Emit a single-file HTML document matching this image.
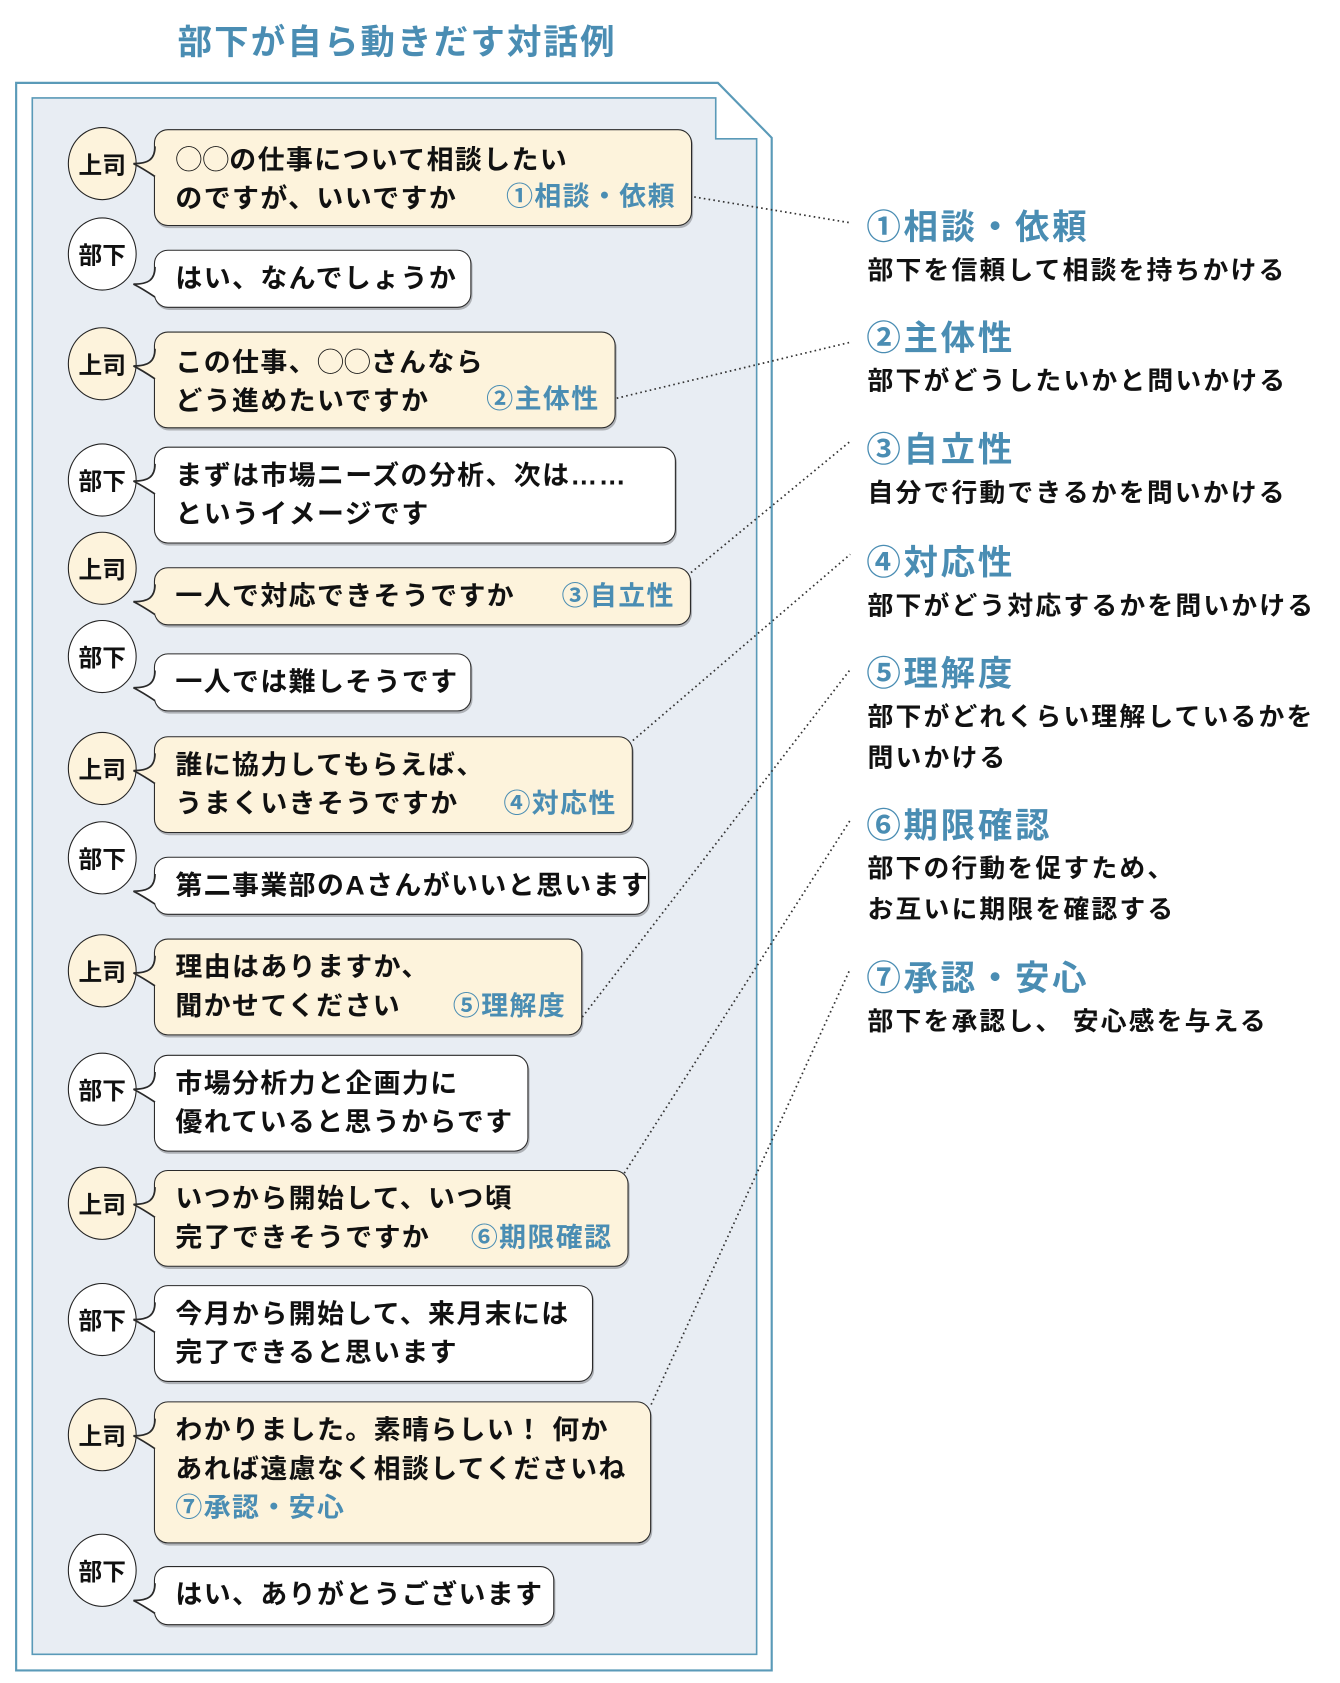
<!DOCTYPE html>
<html><head><meta charset="utf-8">
<style>
html,body{margin:0;padding:0;background:#fff;}
body{width:1340px;height:1683px;overflow:hidden;position:relative;font-family:"Liberation Sans","Noto Sans CJK JP",sans-serif;}
#w{position:absolute;left:0;top:0;width:1245px;height:1564px;transform:scale(1.0763);transform-origin:0 0;}
.t{position:absolute;left:165px;top:14px;font-size:32px;font-weight:bold;color:#4a8db3;letter-spacing:2px;white-space:nowrap;}
.av{position:absolute;left:63px;width:62px;height:66px;border:1.6px solid #222;border-radius:50%;font-size:22px;font-weight:bold;display:flex;align-items:center;justify-content:center;color:#111;}
.b{background:#fdf3dc;}
.s{background:#fff;}
.bb{position:absolute;left:143px;border:1.8px solid #2a2a2a;border-radius:13px;box-sizing:border-box;padding:8px 14px 0 19px;font-size:25px;font-weight:bold;line-height:36px;letter-spacing:1.3px;color:#111;white-space:nowrap;box-shadow:1px 2px 0 rgba(0,0,0,.25);}
.c{font-family:"Noto Sans CJK JP",sans-serif;font-weight:normal;letter-spacing:0;}
.bl{color:#4a8db3;position:absolute;right:14px;}
.h{position:absolute;left:805px;font-size:32px;font-weight:bold;color:#4a8db3;letter-spacing:2.5px;white-space:nowrap;}
.d{position:absolute;left:806px;font-size:24px;font-weight:bold;color:#111;letter-spacing:2px;line-height:38px;white-space:nowrap;}
</style></head><body><div id="w">
<div class="t">部下が自ら動きだす対話例</div>
<svg style="position:absolute;left:0;top:0" width="1245" height="1564">
<path d="M15,77 L667,77 L717,128 L717,1552 L15,1552 Z" fill="#fff" stroke="#5a9ab8" stroke-width="2"/>
<path d="M30,91 L665,91 L665,129 L703,129 L703,1537 L30,1537 Z" fill="#e8edf3" stroke="#5a9ab8" stroke-width="1.5"/>
</svg>
<div class="av b" style="top:118px">上司</div>
<div class="bb b" style="top:120px;width:500px;height:90px"><span class="c">◯◯</span>の仕事について相談したい<br>のですが、いいですか<span class="bl" style="top:44px">①相談・依頼</span></div>
<div class="av s" style="top:202px">部下</div>
<div class="bb s" style="top:232px;width:295px;height:54px">はい、なんでしょうか</div>
<div class="av b" style="top:304px">上司</div>
<div class="bb b" style="top:308px;width:429px;height:90px">この仕事、<span class="c">◯◯</span>さんなら<br>どう進めたいですか<span class="bl" style="top:44px">②主体性</span></div>
<div class="av s" style="top:412px">部下</div>
<div class="bb s" style="top:415px;width:485px;height:90px">まずは市場ニーズの分析、次は……<br>というイメージです</div>
<div class="av b" style="top:494px">上司</div>
<div class="bb b" style="top:527px;width:499px;height:54px">一人で対応できそうですか<span class="bl" style="top:8px">③自立性</span></div>
<div class="av s" style="top:576px">部下</div>
<div class="bb s" style="top:607px;width:295px;height:54px">一人では難しそうです</div>
<div class="av b" style="top:680px">上司</div>
<div class="bb b" style="top:684px;width:445px;height:90px">誰に協力してもらえば、<br>うまくいきそうですか<span class="bl" style="top:44px">④対応性</span></div>
<div class="av s" style="top:763px">部下</div>
<div class="bb s" style="top:796px;width:460px;height:54px">第二事業部のAさんがいいと思います</div>
<div class="av b" style="top:868px">上司</div>
<div class="bb b" style="top:872px;width:398px;height:90px">理由はありますか、<br>聞かせてください<span class="bl" style="top:44px">⑤理解度</span></div>
<div class="av s" style="top:978px">部下</div>
<div class="bb s" style="top:980px;width:348px;height:90px">市場分析力と企画力に<br>優れていると思うからです</div>
<div class="av b" style="top:1084px">上司</div>
<div class="bb b" style="top:1087px;width:441px;height:90px">いつから開始して、いつ頃<br>完了できそうですか<span class="bl" style="top:44px">⑥期限確認</span></div>
<div class="av s" style="top:1192px">部下</div>
<div class="bb s" style="top:1194px;width:408px;height:90px">今月から開始して、来月末には<br>完了できると思います</div>
<div class="av b" style="top:1299px">上司</div>
<div class="bb b" style="top:1302px;width:462px;height:132px">わかりました。素晴らしい！ 何か<br>あれば遠慮なく相談してくださいね<br><span style="color:#4a8db3">⑦承認・安心</span></div>
<div class="av s" style="top:1425px">部下</div>
<div class="bb s" style="top:1455px;width:372px;height:55px">はい、ありがとうございます</div>

<svg style="position:absolute;left:0;top:0" width="1245" height="1564">
<g fill="none" stroke="#333" stroke-width="1.6" stroke-dasharray="1.5 3">
<line x1="645" y1="183" x2="790" y2="207"/>
<line x1="573" y1="370" x2="790" y2="318"/>
<line x1="642" y1="532" x2="790" y2="410"/>
<line x1="588" y1="688" x2="790" y2="515"/>
<line x1="541" y1="945" x2="790" y2="622"/>
<line x1="580" y1="1090" x2="790" y2="762"/>
<line x1="605" y1="1305" x2="790" y2="900"/>
</g>
<g id="tl"></g>
</svg>
<script>
(function(){
var tops=[[120,'#fdf3dc'],[232,'#fff'],[308,'#fdf3dc'],[415,'#fff'],[527,'#fdf3dc'],[607,'#fff'],[684,'#fdf3dc'],[796,'#fff'],[872,'#fdf3dc'],[980,'#fff'],[1087,'#fdf3dc'],[1194,'#fff'],[1302,'#fdf3dc'],[1455,'#fff']];
var g=document.getElementById('tl'),s='';
tops.forEach(function(t){var y=t[0];
s+='<path d="M146,'+(y+16)+' L144,'+(y+16)+' C144,'+(y+28)+' 138,'+(y+32)+' 124,'+(y+32)+' C132,'+(y+36)+' 138,'+(y+40)+' 144,'+(y+44)+' L146,'+(y+44)+' Z" fill="'+t[1]+'"/>';
s+='<path d="M144,'+(y+16)+' C144,'+(y+28)+' 138,'+(y+32)+' 124,'+(y+32)+' C132,'+(y+36)+' 138,'+(y+40)+' 144,'+(y+44)+'" fill="none" stroke="#2a2a2a" stroke-width="1.6"/>';
});
g.innerHTML=s;})();
</script>
<div class="h" style="top:186px">①相談・依頼</div>
<div class="d" style="top:233px">部下を信頼して相談を持ちかける</div>
<div class="h" style="top:289px">②主体性</div>
<div class="d" style="top:336px">部下がどうしたいかと問いかける</div>
<div class="h" style="top:393px">③自立性</div>
<div class="d" style="top:440px">自分で行動できるかを問いかける</div>
<div class="h" style="top:498px">④対応性</div>
<div class="d" style="top:545px">部下がどう対応するかを問いかける</div>
<div class="h" style="top:601px">⑤理解度</div>
<div class="d" style="top:648px">部下がどれくらい理解しているかを<br>問いかける</div>
<div class="h" style="top:742px">⑥期限確認</div>
<div class="d" style="top:789px">部下の行動を促すため、<br>お互いに期限を確認する</div>
<div class="h" style="top:884px">⑦承認・安心</div>
<div class="d" style="top:931px">部下を承認し、 安心感を与える</div>
</div></body></html>
